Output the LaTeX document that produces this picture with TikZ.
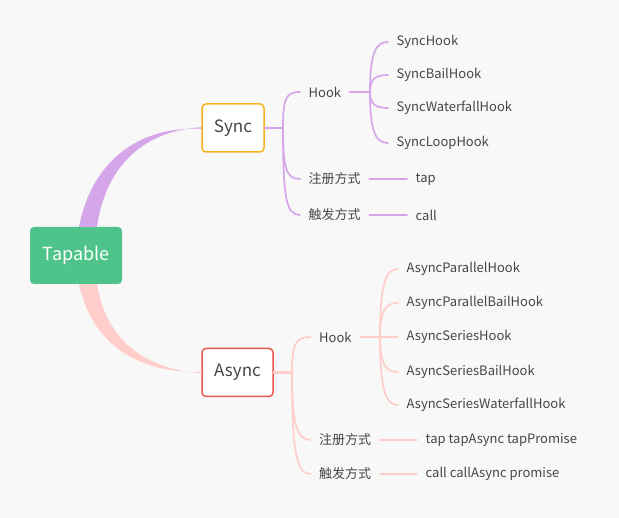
\documentclass[tikz,border=0pt]{standalone}
\usepackage{fontspec}
\setmainfont{Noto Sans CJK SC}
\usetikzlibrary{positioning, calc}
\definecolor{bgcol}{HTML}{F8F8F8}
\definecolor{syncline}{HTML}{D6A6EA}
\definecolor{asyncline}{HTML}{FFCECB}
\definecolor{tapgreen}{HTML}{4EC38A}
\definecolor{syncbord}{HTML}{F5B41E}
\definecolor{asyncbord}{HTML}{E8594F}
\definecolor{txt}{HTML}{464646}

\begin{document}
\begin{tikzpicture}[x=1pt, y=-1pt, line cap=round, line join=round,
  leaf/.style={anchor=west, inner xsep=8.5pt, inner ysep=2pt, text=txt, font=\fontsize{13}{15}\selectfont},
  topic/.style={draw, line width=1.5pt, fill=white, rounded corners=4pt, minimum height=48pt, text=txt, font=\fontsize{17}{20}\selectfont},
  twig/.style={line width=1.7pt},
  stem/.style={line width=2.6pt}]

% --- Sfondo ---
\fill[bgcol] (0,0) rectangle (619,518);
\useasboundingbox (0,0) rectangle (619,518);

% --- Nodo centrale e rami principali ---
\node[fill=tapgreen, rounded corners=4pt, minimum width=92pt, minimum height=57pt,
  text=white, font=\fontsize{18}{20}\selectfont] (tapable) at (76,255.5) {Tapable};
\node[topic, draw=syncbord, minimum width=62pt] (sync) at (233,128) {Sync};
\node[topic, draw=asyncbord, minimum width=71pt] (async) at (237.5,372.5) {Async};

\fill[syncline] ($(tapable.north)+(3,0)$) .. controls (92,160) and (140,126) .. ([yshift=-0.8pt]sync.west)
  -- ([yshift=0.8pt]sync.west) .. controls (140,131) and (105,170) .. ($(tapable.north)+(21,0)$) -- cycle;
\fill[asyncline] ($(tapable.south)+(3,0)$) .. controls (92,345) and (140,374) .. ([yshift=0.8pt]async.west)
  -- ([yshift=-0.8pt]async.west) .. controls (140,369) and (105,335) .. ($(tapable.south)+(21,0)$) -- cycle;

% --- Sync ---
\coordinate (sj) at (283,128);
\node[leaf] (shook) at (300,92) {Hook};
\node[leaf] (sreg) at (300,179) {注册方式};
\node[leaf] (strig) at (300,215) {触发方式};
\draw[syncline, stem] (sync.east) -- (sj);
\draw[syncline, twig] (sj) .. controls +(0,-30) and +(-14,0) .. (shook.west);
\draw[syncline, twig] (sj) .. controls +(0,40) and +(-14,0) .. (sreg.west);
\draw[syncline, twig] (sj) .. controls +(0,70) and +(-14,0) .. (strig.west);

\coordinate (shj) at (370,92);
\draw[syncline, stem] (shook.east) -- (shj);
\foreach \name/\y/\txt in {s1/42/SyncHook, s2/75/SyncBailHook, s3/108/SyncWaterfallHook, s4/143/SyncLoopHook} {
  \node[leaf] (\name) at (388,\y) {\txt};
  \draw[syncline, twig] (shj) .. controls +(0,{0.8*(\y-92)}) and +(-12,0) .. (\name.west);
}

\node[leaf] (stap) at (407,179) {tap};
\node[leaf] (scall) at (407,215) {call};
\draw[syncline, twig] (sreg) -- (stap);
\draw[syncline, twig] (strig) -- (scall);

% --- Async ---
\coordinate (aj) at (292,372.5);
\node[leaf] (ahook) at (310.5,337) {Hook};
\node[leaf] (areg) at (310.5,440) {注册方式};
\node[leaf] (atrig) at (310.5,474) {触发方式};
\draw[asyncline, stem] (async.east) -- (aj);
\draw[asyncline, twig] (aj) .. controls +(0,-30) and +(-14,0) .. (ahook.west);
\draw[asyncline, twig] (aj) .. controls +(0,50) and +(-14,0) .. (areg.west);
\draw[asyncline, twig] (aj) .. controls +(0,80) and +(-14,0) .. (atrig.west);

\coordinate (ahj) at (380,337);
\draw[asyncline, stem] (ahook.east) -- (ahj);
\foreach \name/\y/\txt in {a1/269/AsyncParallelHook, a2/303/AsyncParallelBailHook, a3/337/AsyncSeriesHook,
  a4/372/AsyncSeriesBailHook, a5/405/AsyncSeriesWaterfallHook} {
  \node[leaf] (\name) at (398,\y) {\txt};
  \draw[asyncline, twig] (ahj) .. controls +(0,{0.8*(\y-337)}) and +(-12,0) .. (\name.west);
}

\node[leaf] (atap) at (417,440) {tap tapAsync tapPromise};
\node[leaf] (acall) at (417,474) {call callAsync promise};
\draw[asyncline, twig] (areg) -- (atap);
\draw[asyncline, twig] (atrig) -- (acall);
\end{tikzpicture}
\end{document}
